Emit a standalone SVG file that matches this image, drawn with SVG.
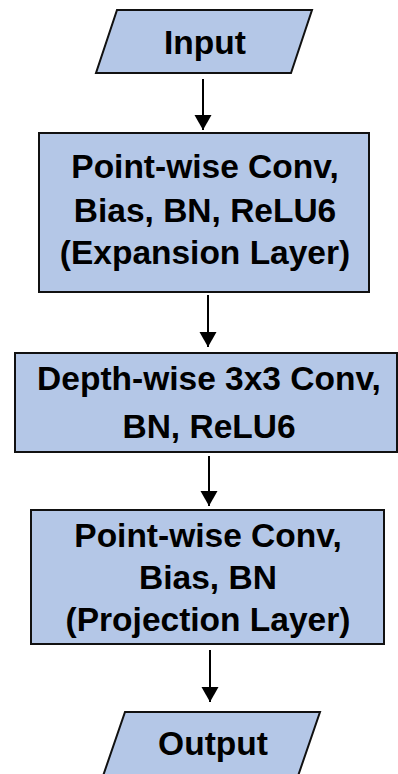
<svg xmlns="http://www.w3.org/2000/svg" width="398" height="774" viewBox="0 0 398 774">
  <style>
    .shape { fill: #b4c7e7; stroke: #111111; stroke-width: 2; }
    .label { font-family: "Liberation Sans", Arial, sans-serif; font-weight: bold; font-size: 33.5px; fill: #000000; text-anchor: middle; }
    .link { stroke: #000000; stroke-width: 2; fill: none; marker-end: url(#arrow); }
  </style>
  <defs>
    <marker id="arrow" markerUnits="userSpaceOnUse" markerWidth="16" markerHeight="18" refX="15" refY="9" orient="auto">
      <path d="M0,0.5 L15,9 L0,17.5 Z" fill="#000000"/>
    </marker>
  </defs>
  <rect width="398" height="774" fill="#ffffff"/>

  <g id="input">
    <polygon class="shape" points="117,10 312,10 291,73 96,73"/>
    <text class="label" x="205" y="54">Input</text>
  </g>

  <g id="expansion">
    <rect class="shape" x="39" y="133" width="330" height="159"/>
    <text class="label" x="205" y="178">Point-wise Conv,</text>
    <text class="label" x="205" y="222">Bias, BN, ReLU6</text>
    <text class="label" x="205" y="264">(Expansion Layer)</text>
  </g>

  <g id="depthwise">
    <rect class="shape" x="15" y="353" width="382" height="99"/>
    <text class="label" x="209" y="390">Depth-wise 3x3 Conv,</text>
    <text class="label" x="209" y="438">BN, ReLU6</text>
  </g>

  <g id="projection">
    <rect class="shape" x="31" y="510" width="353" height="134"/>
    <text class="label" x="208" y="547">Point-wise Conv,</text>
    <text class="label" x="208" y="589">Bias, BN</text>
    <text class="label" x="208" y="631">(Projection Layer)</text>
  </g>

  <g id="output">
    <polygon class="shape" points="125,712 320,712 298,776 103,776"/>
    <text class="label" x="213" y="755">Output</text>
  </g>

  <g id="connectors">
    <line class="link" x1="203" y1="79" x2="203" y2="130"/>
    <line class="link" x1="208" y1="295" x2="208" y2="347"/>
    <line class="link" x1="209" y1="456" x2="209" y2="506"/>
    <line class="link" x1="210" y1="650" x2="210" y2="702"/>
  </g>
</svg>
